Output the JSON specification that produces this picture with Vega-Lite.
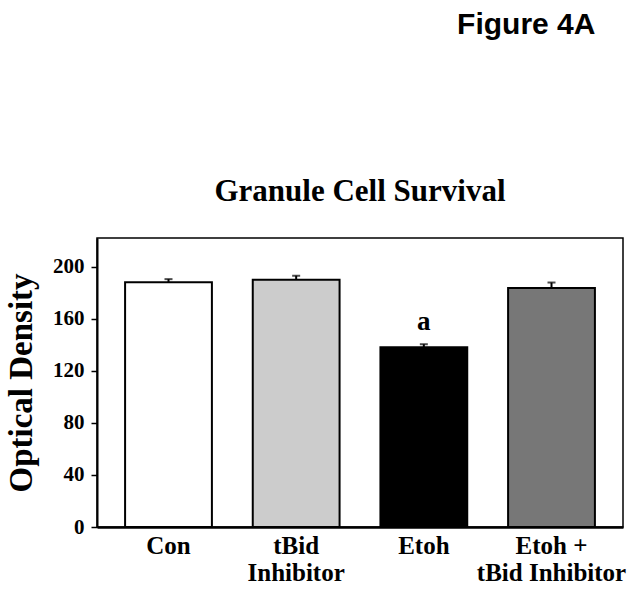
{
  "$schema": "https://vega.github.io/schema/vega-lite/v6.json",
  "background": "white",
  "padding": {"left": 4, "top": 10, "right": 17, "bottom": 2},
  "title": {"text": "Figure 4A", "anchor": "end", "font": "Liberation Sans", "fontSize": 30, "fontWeight": "bold", "color": "black", "offset": 135, "dx": -31},
  "config": {
    "view": {"stroke": "black", "strokeWidth": 1.5},
    "axis": {"grid": false, "domainColor": "black", "tickColor": "black", "labelColor": "black", "titleColor": "black", "labelFont": "Liberation Serif", "titleFont": "Liberation Serif", "labelFontWeight": "bold", "titleFontWeight": "bold"}
  },
  "vconcat": [
    {
      "width": 526,
      "height": 289,
      "title": {"text": "Granule Cell Survival", "font": "Liberation Serif", "fontSize": 31, "fontWeight": "bold", "color": "black", "offset": 30, "anchor": "middle"},
      "data": {"values": [
        {"group": "Con", "value": 188, "upper": 190.4, "sig": ""},
        {"group": "tBid Inhibitor", "value": 190, "upper": 193, "sig": ""},
        {"group": "Etoh", "value": 138, "upper": 140.4, "sig": "a"},
        {"group": "Etoh + tBid Inhibitor", "value": 183.5, "upper": 187.8, "sig": ""}
      ]},
      "encoding": {
        "x": {"field": "group", "type": "nominal", "sort": null,
          "scale": {"paddingInner": 0.32, "paddingOuter": 0.22},
          "axis": {"title": null, "labelAngle": 0, "labelFontSize": 25, "labelPadding": 6, "ticks": false, "domainWidth": 2.5, "labelLineHeight": 27,
            "labelExpr": "datum.label == 'tBid Inhibitor' ? ['tBid', 'Inhibitor'] : datum.label == 'Etoh + tBid Inhibitor' ? ['Etoh +', 'tBid Inhibitor'] : datum.label"}}
      },
      "layer": [
        {
          "mark": {"type": "bar", "stroke": "black", "strokeWidth": 2},
          "encoding": {
            "y": {"field": "value", "type": "quantitative",
              "scale": {"domain": [0, 222], "nice": false},
              "axis": {"title": "Optical Density", "titleFontSize": 33, "titlePadding": 14, "labelFontSize": 21, "labelPadding": 7, "tickSize": 6, "tickWidth": 1.5, "domainWidth": 2,
                "values": [0, 20, 40, 60, 80, 100, 120, 140, 160, 180, 200],
                "labelExpr": "datum.value % 40 == 0 ? datum.label : ''"}},
            "color": {"field": "group", "type": "nominal", "legend": null,
              "scale": {"domain": ["Con", "tBid Inhibitor", "Etoh", "Etoh + tBid Inhibitor"], "range": ["#ffffff", "#cccccc", "#000000", "#777777"]}}
          }
        },
        {
          "mark": {"type": "rule", "color": "black", "strokeWidth": 2},
          "encoding": {"y": {"field": "value", "type": "quantitative"}, "y2": {"field": "upper"}}
        },
        {
          "mark": {"type": "tick", "color": "black", "size": 8, "thickness": 2},
          "encoding": {"y": {"field": "upper", "type": "quantitative"}}
        },
        {
          "mark": {"type": "text", "font": "Liberation Serif", "fontWeight": "bold", "fontSize": 27, "baseline": "bottom", "dy": -8, "color": "black"},
          "encoding": {"y": {"field": "upper", "type": "quantitative"}, "text": {"field": "sig"}}
        }
      ]
    }
  ]
}
